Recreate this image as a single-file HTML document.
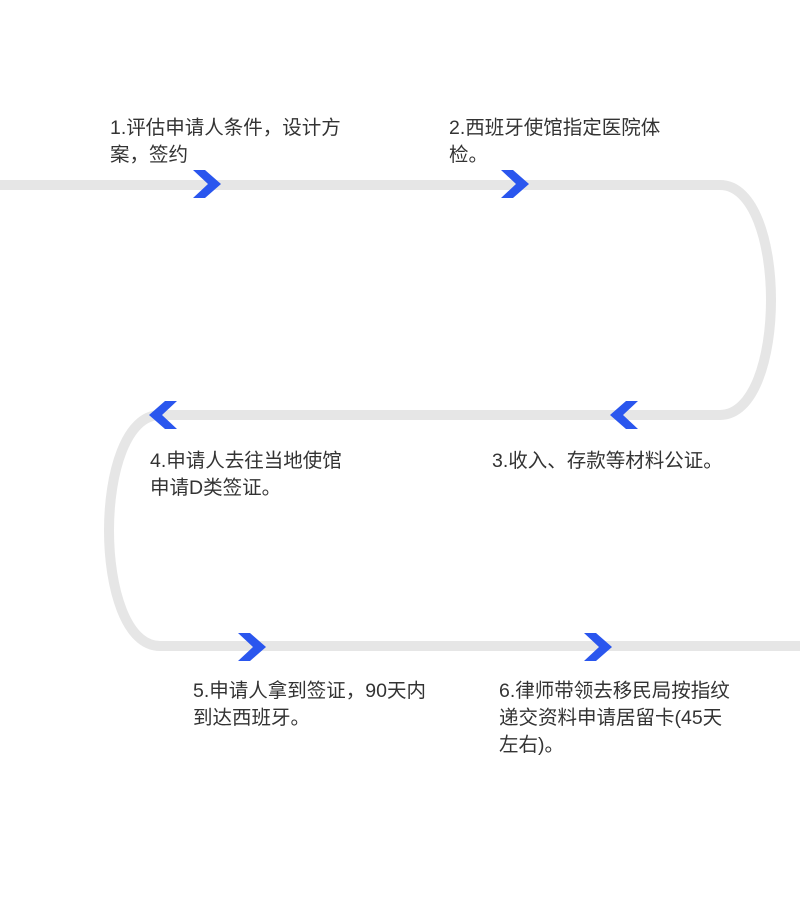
<!DOCTYPE html>
<html><head><meta charset="utf-8"><style>
body{margin:0;width:800px;height:900px;background:#fff;position:relative;overflow:hidden;font-family:"Liberation Sans","Noto Sans CJK SC",sans-serif;}
.t{position:absolute;font-size:19.5px;line-height:27px;color:#333;white-space:nowrap;}
svg{position:absolute;left:0;top:0}
</style></head><body>
<svg width="800" height="900">
<path d="M0,185 H720 C788,185 788,415 720,415 H160 C92,415 92,646 160,646 H800" fill="none" stroke="#e6e6e6" stroke-width="10"/>
<g fill="#2a56ee">
<polygon points="193,170 205,170 221,184 205,198 193,198 208,184"/>
<polygon points="501,170 513,170 529,184 513,198 501,198 516,184"/>
<polygon points="638,401 626,401 610,415 626,429 638,429 623,415"/>
<polygon points="177,401 165,401 149,415 165,429 177,429 162,415"/>
<polygon points="238,633 250,633 266,647 250,661 238,661 253,647"/>
<polygon points="584,633 596,633 612,647 596,661 584,661 599,647"/>
</g>
</svg>
<div class="t" style="left:110px;top:115px">1.评估申请人条件，设计方<br>案，签约</div>
<div class="t" style="left:449px;top:115px">2.西班牙使馆指定医院体<br>检。</div>
<div class="t" style="left:492px;top:448px">3.收入、存款等材料公证。</div>
<div class="t" style="left:150px;top:448px">4.申请人去往当地使馆<br>申请D类签证。</div>
<div class="t" style="left:193px;top:678px">5.申请人拿到签证，90天内<br>到达西班牙。</div>
<div class="t" style="left:499px;top:678px">6.律师带领去移民局按指纹<br>递交资料申请居留卡(45天<br>左右)。</div>
</body></html>
